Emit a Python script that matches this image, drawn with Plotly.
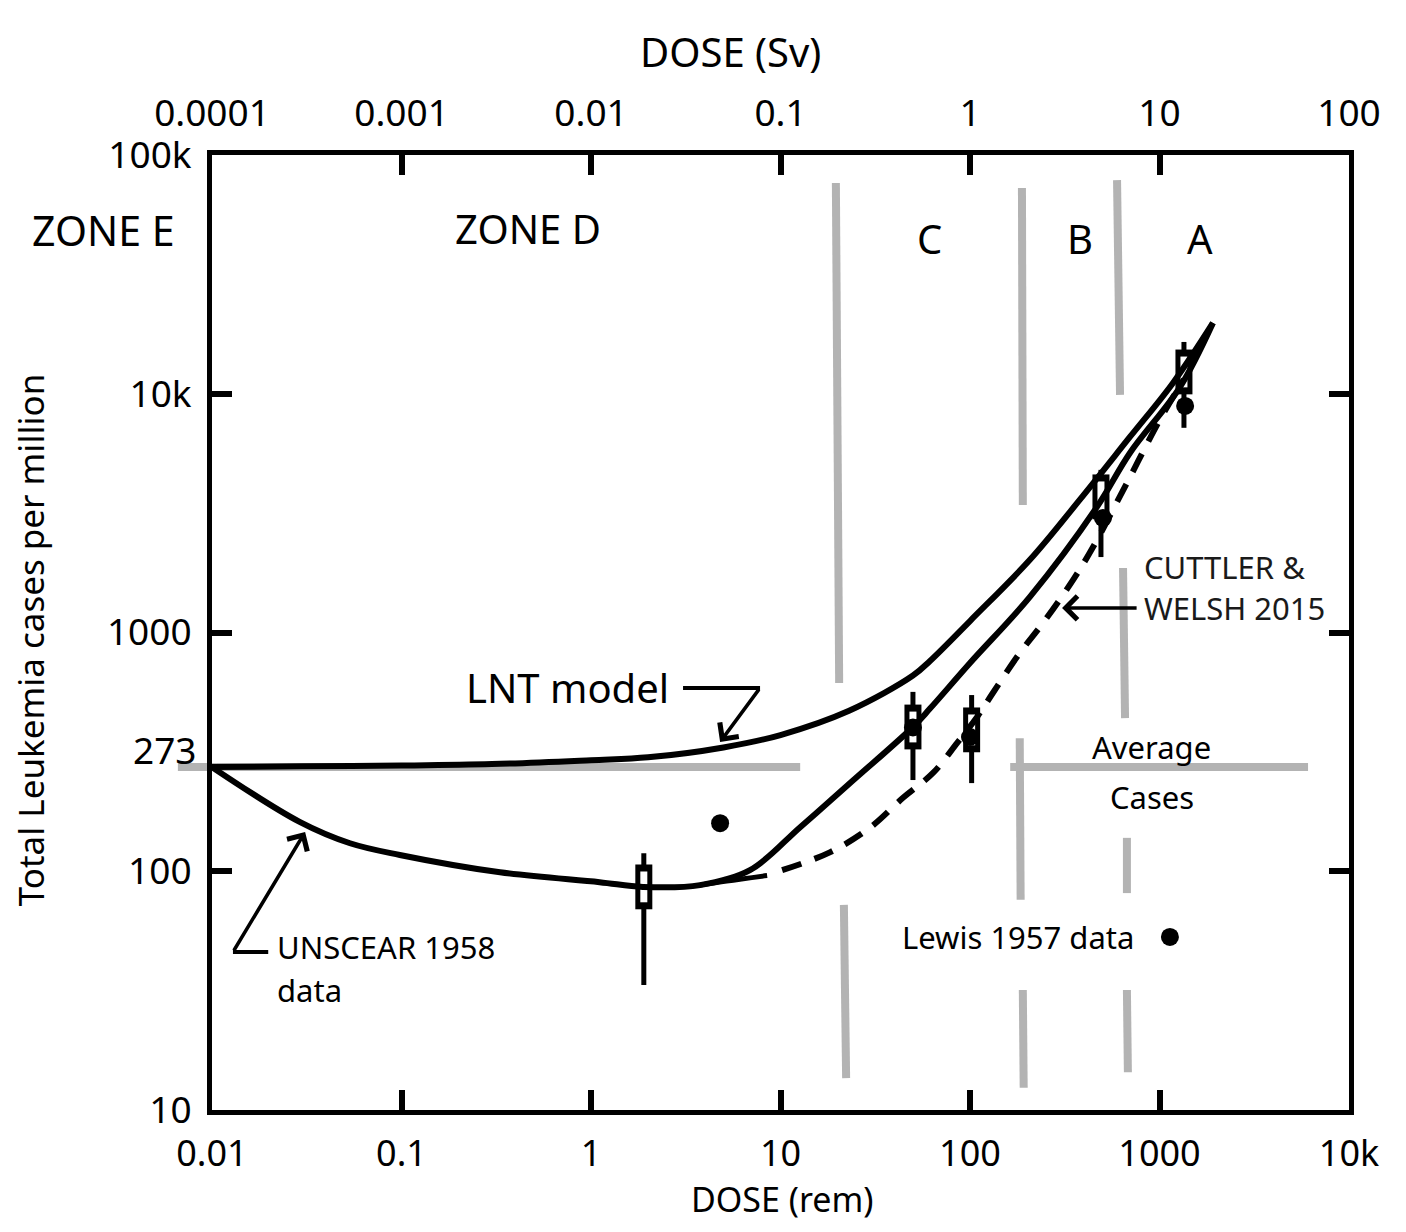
import numpy as np
import plotly.graph_objects as go

# ---------------- data ----------------
# LNT model curve (dose in rem, cases per million)
lnt_dose = [0.01, 0.03, 0.1, 0.3, 1, 2, 5, 10, 23, 50, 61.5, 100, 207, 380, 698, 1178, 1914]
lnt_cases = [273, 275, 277, 281, 292, 300, 330, 372, 470, 660, 760, 1117, 2015, 3600, 6590, 11100, 19800]

# UNSCEAR 1958 fitted curve
uns_dose = [0.01, 0.029, 0.0535, 0.098, 0.331, 1.11, 1.88, 3.76, 6.9, 12.7, 23.3, 50, 61.5, 100, 207, 468, 698, 1282, 1914]
uns_cases = [273, 161, 131, 117, 99, 90, 86, 87.5, 101, 153, 234, 402, 480, 745, 1410, 3360, 5650, 10670, 19800]

# Cuttler & Welsh 2015 curve: solid start, then dashed
cw_tail_dose = [3.76, 5.2, 8.5]
cw_tail_cases = [87.5, 91, 96]
cw_dose = [10.2, 18.2, 29.6, 44.3, 63.8, 85.4, 109, 132, 183, 243, 350, 446, 673, 1006, 1346]
cw_cases = [101, 120, 152, 203, 258, 344, 443, 558, 820, 1097, 1660, 2280, 4230, 7800, 11500]

# UNSCEAR 1958 data points with error bars
box_dose = [1.9, 50, 102, 491, 1346]
box_cases = [86, 402, 391, 3700, 12340]
box_hi = [119, 564, 547, 4800, 16480]
box_lo = [33.4, 241, 234, 2070, 7200]

# Lewis 1957 data points
lewis_dose = [4.8, 50, 100, 503, 1365]
lewis_cases = [159, 400, 365, 3020, 8890]
lewis_key_dose = [1135]
lewis_key_cases = [53.1]

# Average cases level
avg_level = 273
avg_dose = [0.01, 12.7, None, 163, 6080]
avg_cases = [273, 273, None, 273, 273]

# Zone boundary (grey) segments
zone_dose = [19.6, 20.4, None, 21.6, 22.2, None,
             188, 190, None, 183, 185, None, 190, 192, None,
             597, 619, None, 642, 658, None, 673, 673, None, 673, 681]
zone_cases = [76400, 614, None, 72.3, 13.6, None,
              72800, 3420, None, 361, 76, None, 31.8, 12.4, None,
              78500, 9890, None, 1862, 438, None, 138, 81, None, 31.8, 14.4]

# Axis ticks
rem_ticks = [0.01, 0.1, 1, 10, 100, 1000, 10000]
rem_text = ['0.01', '0.1', '1', '10', '100', '1000', '10k']
sv_ticks = [0.0001, 0.001, 0.01, 0.1, 1, 10, 100]
sv_text = ['0.0001', '0.001', '0.01', '0.1', '1', '10', '100']
y_ticks = [10, 100, 1000, 10000, 100000]
y_text = ['10', '100', '1000', '10k', '100k']

# ---------------- figure ----------------
FONT = 'Noto Sans'
GREY = '#b3b3b3'
L = np.log10

fig = go.Figure()

fig.add_trace(go.Scatter(x=zone_dose, y=zone_cases, mode='lines',
                         line=dict(color=GREY, width=8), hoverinfo='skip'))
fig.add_trace(go.Scatter(x=avg_dose, y=avg_cases, mode='lines',
                         line=dict(color=GREY, width=8), hoverinfo='skip'))

# boxes with error bars (drawn under the curves)
fig.add_trace(go.Scatter(
    x=box_dose, y=box_cases, mode='markers',
    marker=dict(symbol='line-ns', size=32, color='black', line=dict(color='black', width=17)),
    error_y=dict(type='data', symmetric=False,
                 array=[h - c for h, c in zip(box_hi, box_cases)],
                 arrayminus=[c - l for c, l in zip(box_cases, box_lo)],
                 thickness=5, width=0, color='black')))
fig.add_trace(go.Scatter(
    x=box_dose, y=box_cases, mode='markers',
    marker=dict(symbol='line-ns', size=22, color='white', line=dict(color='white', width=7))))

fig.add_trace(go.Scatter(x=lnt_dose, y=lnt_cases, mode='lines', line_shape='spline',
                         line=dict(color='black', width=6)))
fig.add_trace(go.Scatter(x=uns_dose, y=uns_cases, mode='lines', line_shape='spline',
                         line=dict(color='black', width=6)))
fig.add_trace(go.Scatter(x=cw_tail_dose, y=cw_tail_cases, mode='lines', line_shape='spline',
                         line=dict(color='black', width=5)))
fig.add_trace(go.Scatter(x=cw_dose, y=cw_cases, mode='lines', line_shape='spline',
                         line=dict(color='black', width=6, dash='20px,14px')))

fig.add_trace(go.Scatter(x=lewis_dose, y=lewis_cases, mode='markers',
                         marker=dict(symbol='circle', size=18, color='black')))
fig.add_trace(go.Scatter(x=lewis_key_dose, y=lewis_key_cases, mode='markers',
                         marker=dict(symbol='circle', size=18, color='black')))

# arrow stems
fig.add_trace(go.Scatter(x=[3.06, 7.8], y=[586, 586], mode='lines',
                         line=dict(color='black', width=4), hoverinfo='skip'))
fig.add_trace(go.Scatter(x=[0.0198, 0.0129], y=[45.9, 45.9], mode='lines',
                         line=dict(color='black', width=4), hoverinfo='skip'))

# invisible trace to activate the Sv axis
fig.add_trace(go.Scatter(x=[0.0001, 100], y=[10, 10], xaxis='x2', mode='markers',
                         marker=dict(opacity=0), hoverinfo='skip'))

axis_common = dict(type='log', ticks='inside', ticklen=20, tickwidth=6, tickcolor='black',
                   showline=True, linewidth=5, linecolor='black', showgrid=False,
                   zeroline=False)

fig.update_layout(
    width=1390, height=1216,
    margin=dict(l=204, r=49, t=147, b=114),
    plot_bgcolor='white', paper_bgcolor='white',
    showlegend=False,
    font=dict(family=FONT, color='black'),
    xaxis=dict(**axis_common, range=[-2, 4], tickvals=rem_ticks, ticktext=rem_text,
               mirror=True, tickfont=dict(size=36), ticklabelstandoff=8),
    xaxis2=dict(**axis_common, range=[-4, 2], tickvals=sv_ticks, ticktext=sv_text,
                overlaying='x', side='top', anchor='y', tickfont=dict(size=37),
                ticklabelstandoff=9),
    yaxis=dict(**axis_common, range=[1, 5], tickvals=y_ticks, ticktext=y_text,
               mirror='ticks', tickfont=dict(size=37), ticklabelstandoff=8),
)

ann = []
def txt(text, x, y, size=32, xref='x', yref='y', xanchor='center', angle=0, color='black'):
    ann.append(dict(text=text, x=x, y=y, xref=xref, yref=yref, showarrow=False,
                    xanchor=xanchor, yanchor='middle', textangle=angle,
                    font=dict(size=size, family=FONT, color=color)))

def arrow(x_head, y_head, x_tail, y_tail):
    ann.append(dict(text='', x=L(x_head), y=L(y_head), ax=L(x_tail), ay=L(y_tail),
                    xref='x', yref='y', axref='x', ayref='y', showarrow=True,
                    arrowhead=4, arrowsize=1.3, arrowwidth=3.5, arrowcolor='black'))

# axis titles
txt('DOSE (Sv)', 0.4556, 1.108, size=40, xref='paper', yref='paper')
txt('DOSE (rem)', 0.502, -0.0935, size=34, xref='paper', yref='paper')
txt('Total Leukemia cases per million', -0.160, 0.492, size=35, xref='paper', yref='paper', angle=-90)

# zone labels
txt('ZONE E', -0.0959, 0.9215, size=41, xref='paper', yref='paper')
txt('ZONE D', L(0.466), L(49400), size=40)
txt('C', L(61.5), L(44900), size=40)
txt('B', L(380), L(44900), size=40)
txt('A', L(1636), L(44900), size=40)

# 273 label
txt(str(avg_level), -0.0413, 0.378, size=37, xref='paper', yref='paper')

# other labels
txt('LNT model', L(0.756), L(586), size=40)
txt('UNSCEAR 1958', L(0.0215), L(48.2), size=31, xanchor='left')
txt('data', L(0.0215), L(31.8), size=31, xanchor='left')
txt('CUTTLER &amp;', L(809), L(1880), size=31, xanchor='left', color='#1a1a1a')
txt('WELSH 2015', L(809), L(1268), size=31, xanchor='left', color='#1a1a1a')
txt('Average', L(912), L(330), size=31)
txt('Cases', L(912), L(205), size=31)
txt('Lewis 1957 data', L(179), L(53.1), size=31)

arrow(4.8, 348, 7.8, 586)
arrow(0.031, 146, 0.0129, 45.9)
arrow(306, 1268, 771, 1268)

fig.update_layout(annotations=ann)

# short stub of the average line outside the left axis
ystub = np.log10(avg_level / 10) / 4
fig.add_shape(type='line', xref='paper', yref='paper', x0=-0.03, x1=0.0, y0=ystub, y1=ystub,
              line=dict(color=GREY, width=8), layer='below')

fig.write_html('out.html')
